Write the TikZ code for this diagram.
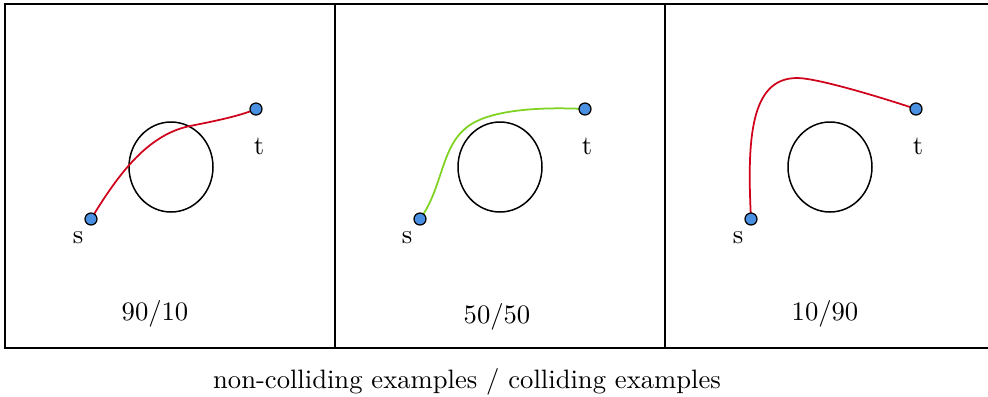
\documentclass[tikz,border=0pt]{standalone}
\definecolor{pathred}{HTML}{D0021B}
\definecolor{pathgreen}{HTML}{7ED321}
\definecolor{dotblue}{HTML}{4A90E2}
\begin{document}
\begin{tikzpicture}[x=0.4pt,y=-0.4pt,
  panel/.style={draw=black,line width=0.8pt},
  obstacle/.style={draw=black,line width=0.6pt},
  endpoint/.style={circle,draw=black,fill=dotblue,line width=0.5pt,minimum size=4.8pt,inner sep=0pt},
  lbl/.style={font=\fontsize{10.65}{12}\selectfont,inner sep=0pt},
  route/.style={line width=0.7pt}]
\useasboundingbox (0,0) rectangle (988,396);
\clip (0,0) rectangle (988,396);
% panels
\draw[panel] (5,4) rectangle (335,348);
\draw[panel] (335,4) rectangle (665,348);
\draw[panel] (665,4) rectangle (1000,348);
% obstacles
\draw[obstacle] (171,167) ellipse [x radius=42, y radius=45];
\draw[obstacle] (500,167) ellipse [x radius=42, y radius=45];
\draw[obstacle] (830,167) ellipse [x radius=42, y radius=45];
% endpoint positions
\coordinate (s1) at (91,219);
\coordinate (t1) at (256,109);
\coordinate (s2) at (420,219);
\coordinate (t2) at (585,109);
\coordinate (s3) at (751,219);
\coordinate (t3) at (916,109);
\coordinate (m1) at (190,126);
\coordinate (m2) at (475,122);
\coordinate (m3) at (797,78);
% routes
\draw[route,pathred] (s1) .. controls (115,180) and (145,135) .. (m1)
  .. controls (215,121) and (240,116) .. (t1);
\draw[route,pathgreen] (s2) .. controls (445,185) and (440,140) .. (m2)
  .. controls (500,109) and (545,107) .. (t2);
\draw[route,pathred] (s3) .. controls (747,140) and (750,78) .. (m3)
  .. controls (817,78) and (880,97) .. (t3);
% endpoints on top
\node[endpoint] (ds1) at (s1) {};
\node[endpoint] (dt1) at (t1) {};
\node[endpoint] (ds2) at (s2) {};
\node[endpoint] (dt2) at (t2) {};
\node[endpoint] (ds3) at (s3) {};
\node[endpoint] (dt3) at (t3) {};
% labels
\node[lbl] (ls1) at (78,238) {s};
\node[lbl] (lt1) at (259,146) {t};
\node[lbl] (ls2) at (407,238) {s};
\node[lbl] (lt2) at (587,146) {t};
\node[lbl] (ls3) at (738,238) {s};
\node[lbl] (lt3) at (918,146) {t};
\node[lbl] (r1) at (155,314) {90/10};
\node[lbl] (r2) at (497,317) {50/50};
\node[lbl] (r3) at (825,314) {10/90};
\node[lbl] (cap) at (467,382) {non-colliding examples / colliding examples};
\end{tikzpicture}
\end{document}
